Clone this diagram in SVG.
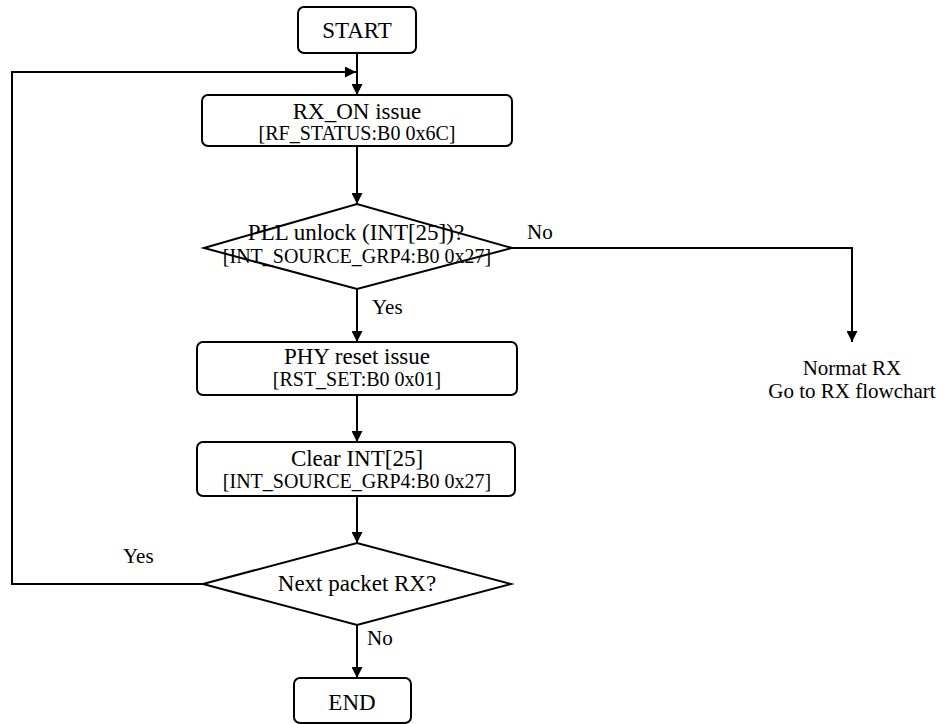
<svg xmlns="http://www.w3.org/2000/svg" width="943" height="724" viewBox="0 0 943 724">
<style>
  .box { fill: #fff; stroke: #000; stroke-width: 2; }
  .edge { fill: none; stroke: #000; stroke-width: 2; }
  .t { font-family: "Liberation Serif", "Times New Roman", serif; fill: #000; text-anchor: middle; }
  .main { font-size: 23px; }
  .sub { font-size: 20px; }
  .lbl { font-family: "Liberation Serif", "Times New Roman", serif; font-size: 21px; fill: #000; }
</style>
<defs>
  <marker id="arr" viewBox="0 0 10 10" refX="10" refY="5" markerWidth="11" markerHeight="11" markerUnits="userSpaceOnUse" orient="auto">
    <path d="M0,0 L10,5 L0,10 z" fill="#000"/>
  </marker>
</defs>
<rect width="943" height="724" fill="#fff"/>
<g id="connectors">
  <line class="edge" x1="357" y1="53" x2="357" y2="95" marker-end="url(#arr)"/>
  <polyline class="edge" points="203,584 12,584 12,72 356,72" marker-end="url(#arr)"/>
  <line class="edge" x1="357" y1="146" x2="357" y2="204" marker-end="url(#arr)"/>
  <polyline class="edge" points="512,248 852,248 852,342" marker-end="url(#arr)"/>
  <line class="edge" x1="357" y1="289" x2="357" y2="342" marker-end="url(#arr)"/>
  <line class="edge" x1="357" y1="395" x2="357" y2="442" marker-end="url(#arr)"/>
  <line class="edge" x1="357" y1="496" x2="357" y2="543" marker-end="url(#arr)"/>
  <line class="edge" x1="357" y1="625" x2="357" y2="678" marker-end="url(#arr)"/>
  <text class="lbl" x="527" y="239">No</text>
  <text class="lbl" x="372" y="314">Yes</text>
  <text class="lbl" x="123" y="563">Yes</text>
  <text class="lbl" x="367" y="645">No</text>
</g>
<g id="start">
  <rect class="box" x="298" y="7" width="118" height="46" rx="6"/>
  <text class="t main" x="357" y="38">START</text>
</g>
<g id="rx_on">
  <rect class="box" x="202" y="95" width="310" height="51" rx="6"/>
  <text class="t main" x="357" y="119">RX_ON issue</text>
  <text class="t sub" x="357" y="140">[RF_STATUS:B0 0x6C]</text>
</g>
<g id="pll_unlock">
  <polygon class="box" points="204,248 357,204 512,248 357,289"/>
  <text class="t main" x="356" y="240">PLL unlock (INT[25])?</text>
  <text class="t sub" x="357" y="263">[INT_SOURCE_GRP4:B0 0x27]</text>
</g>
<g id="normal_rx">
  <text class="t" style="font-size:21px" x="852" y="375">Normat RX</text>
  <text class="t" style="font-size:21px" x="852" y="398">Go to RX flowchart</text>
</g>
<g id="phy_reset">
  <rect class="box" x="197" y="342" width="320" height="53" rx="6"/>
  <text class="t main" x="357" y="364">PHY reset issue</text>
  <text class="t sub" x="357" y="386">[RST_SET:B0 0x01]</text>
</g>
<g id="clear_int">
  <rect class="box" x="197" y="442" width="318" height="54" rx="6"/>
  <text class="t main" x="357" y="466">Clear INT[25]</text>
  <text class="t sub" x="357" y="488">[INT_SOURCE_GRP4:B0 0x27]</text>
</g>
<g id="next_packet">
  <polygon class="box" points="203,584 357,543 511,584 357,625"/>
  <text class="t main" x="357" y="591">Next packet RX?</text>
</g>
<g id="end">
  <rect class="box" x="294" y="678" width="117" height="45" rx="6"/>
  <text class="t main" x="352" y="710">END</text>
</g>
</svg>
